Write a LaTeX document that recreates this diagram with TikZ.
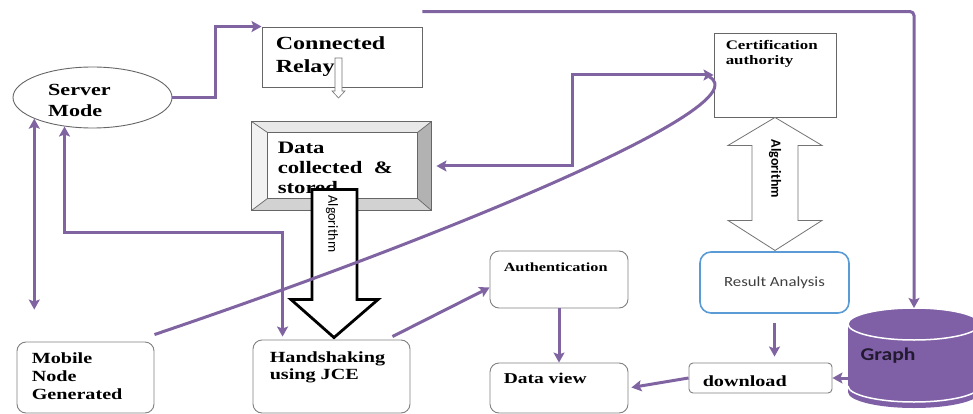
\documentclass[tikz,border=0pt]{standalone}
\usepackage{fontspec}
\setmainfont{Liberation Serif}[FakeStretch=1.3]
\newfontfamily\calib{Carlito}[FakeStretch=1.2]
\newfontfamily\calibup{Carlito}
\usetikzlibrary{positioning,shapes.geometric,arrows.meta,calc}

\definecolor{linkpurple}{HTML}{8064A2}
\definecolor{cylpurple}{HTML}{7F5FA6}
\definecolor{resblue}{HTML}{5B9BD5}
\definecolor{graphtext}{HTML}{221A30}

\tikzset{
  flowline/.style={draw=linkpurple, line width=3pt},
  flow/.style={flowline, -{Stealth[length=10pt,width=11pt,inset=2pt]}},
  twoway/.style={flowline, {Stealth[length=10pt,width=11pt,inset=2pt]}-{Stealth[length=10pt,width=11pt,inset=2pt]}},
  plainbox/.style={draw=black!60, line width=0.9pt, fill=white, inner sep=0pt},
  softbox/.style={plainbox, draw=black!50, rounded corners=9pt},
  boxtext/.style={inner sep=0pt, align=left, anchor=north west}
}

\begin{document}
\begin{tikzpicture}[x=1pt, y=-1pt]
\useasboundingbox (0,0) rectangle (973,414);

% server mode
\node[ellipse, draw=black!60, line width=0.9pt, fill=white, inner sep=0pt,
      minimum width=159pt, minimum height=61pt] (server) at (92.5,97.5) {};
\node[boxtext, font=\bfseries\fontsize{17}{21}\selectfont] (servertxt) at (48,84) {Server\\Mode};

% connected relay
\node[plainbox, minimum width=160pt, minimum height=60pt] (relay) at (342,57) {};
\node[boxtext, font=\bfseries\fontsize{18.5}{23}\selectfont, below right=10pt and 14pt of relay.north west] (relaytxt) {Connected\\Relay};
\draw[draw=black!55, fill=white, line width=0.6pt] ([xshift=-7pt,yshift=-1pt]relay.center)
  -- ++(7,0) -- ++(0,33) -- ++(3,0) -- ++(-6.5,7) -- ++(-6.5,-7) -- ++(3,0) -- cycle;

% data collected & stored (bevel)
\node[plainbox, minimum width=179pt, minimum height=88pt] (data) at (341.5,166) {};
\fill[gray!18] (data.north west) -- (data.north east) -- ([shift={(-14,11)}]data.north east) -- ([shift={(16,11)}]data.north west) -- cycle;
\fill[gray!10] (data.north west) -- ([shift={(16,11)}]data.north west) -- ([shift={(16,-12)}]data.south west) -- (data.south west) -- cycle;
\fill[gray!60] (data.north east) -- ([shift={(-14,11)}]data.north east) -- ([shift={(-14,-12)}]data.south east) -- (data.south east) -- cycle;
\fill[gray!35] (data.south west) -- ([shift={(16,-12)}]data.south west) -- ([shift={(-14,-12)}]data.south east) -- (data.south east) -- cycle;
\draw[black!60, line width=0.7pt] (data.north west) rectangle (data.south east)
  ([shift={(16,11)}]data.north west) rectangle ([shift={(-14,-12)}]data.south east)
  (data.north west) -- ++(16,11) (data.north east) -- ++(-14,11)
  (data.south west) -- ++(16,-12) (data.south east) -- ++(-14,-12);
\node[boxtext, font=\bfseries\fontsize{17.5}{20}\selectfont, below right=20pt and 26pt of data.north west] (datatxt) {Data\\collected\ \ \&\\stored};

% certification authority
\node[plainbox, minimum width=122pt, minimum height=84pt] (cert) at (775,75) {};
\node[boxtext, font=\bfseries\fontsize{13}{15}\selectfont, below right=8pt and 12pt of cert.north west] (certtxt) {Certification\\authority};

% bottom row
\node[softbox, minimum width=137pt, minimum height=71pt] (mobile) at (85.5,377.5) {};
\node[boxtext, font=\bfseries\fontsize{15.5}{18}\selectfont, below right=11pt and 15pt of mobile.north west] (mobiletxt) {Mobile\\Node\\Generated};

\node[softbox, minimum width=157pt, minimum height=73pt] (hand) at (331.5,376.5) {};
\node[boxtext, font=\bfseries\fontsize{15.5}{17}\selectfont, below right=12pt and 17pt of hand.north west] (handtxt) {Handshaking\\using JCE};

\node[softbox, minimum width=138pt, minimum height=57pt] (auth) at (559,279.5) {};
\node[boxtext, font=\bfseries\fontsize{12.5}{14}\selectfont, below right=12pt and 14pt of auth.north west] (authtxt) {Authentication};

\node[softbox, minimum width=138pt, minimum height=50pt] (view) at (559,388) {};
\node[boxtext, font=\bfseries\fontsize{15}{17}\selectfont, below right=10pt and 14pt of view.north west] (viewtxt) {Data view};

\node[softbox, draw=resblue, line width=1.6pt, rounded corners=11pt, minimum width=149pt, minimum height=61pt,
      font=\calib\fontsize{14}{16}\selectfont, text=black!75] (result) at (774.5,282.5) {Result Analysis};

\node[softbox, rounded corners=4pt, minimum width=143pt, minimum height=30pt] (download) at (760.5,378) {};
\node[boxtext, font=\bfseries\fontsize{15.5}{17}\selectfont, below right=13pt and 14pt of download.north west] (downloadtxt) {download};

% graph store
\coordinate (graphtop) at (914,308);
\coordinate (graphleft) at (848,378);
\fill[cylpurple] (848,324) -- (848,392) arc[start angle=180, end angle=360, x radius=66pt, y radius=16pt]
  -- (980,324) arc[start angle=0, end angle=180, x radius=66pt, y radius=16pt] -- cycle;
\draw[white, line width=1.5pt] (914,324) ellipse[x radius=66pt, y radius=16pt];
\draw[white, line width=1.5pt] (848,386) arc[start angle=180, end angle=360, x radius=66pt, y radius=16pt];
\node[font=\calib\bfseries\fontsize{18}{20}\selectfont, text=graphtext] (graph) at (888,356) {Graph};

% algorithm arrows
\draw[black, line width=2.8pt, fill=white, line join=miter] ([xshift=2.5pt,yshift=2pt]hand.north)
  -- ++(-43,-38) -- ++(21,0) -- ++(0,-110) -- ++(45,0) -- ++(0,110) -- ++(21,0) -- cycle;
\node[rotate=-90, font=\calibup\fontsize{14}{16}\selectfont] (algodown) at (332,224) {Algorithm};

\draw[black!55, line width=0.8pt, fill=white] (cert.south)
  -- ++(47,28) -- ++(-24,0) -- ++(0,75) -- ++(24,0) -- ++(-47,30)
  -- ++(-47,-30) -- ++(24,0) -- ++(0,-75) -- ++(-24,0) -- cycle;
\node[rotate=-90, font=\calibup\bfseries\fontsize{14}{16}\selectfont] (algoup) at (775,169) {Algorithm};

% connectors
\coordinate (mobilegap) at ([yshift=32pt]mobile.north);
\draw[flow] (server.east) -- ++(43,0) |- (relay.north west);
\draw[flow, rounded corners=4pt] ([yshift=15pt]relay.north east) -| (graphtop);
\draw[twoway] (server.200) -- (server.200 |- mobilegap);
\draw[twoway] (server.226) -- ++(0,106) -| ([xshift=30pt,yshift=3pt]hand.north west);
\draw[flowline] ([yshift=7pt]mobile.north east) .. controls (455,233) and (760,105) .. ([xshift=-4pt,yshift=-2pt]cert.west);
\draw[twoway] ([xshift=5pt]data.east) -| ($(data.east)!0.5!(cert.west)$) |- (cert.west);
\draw[flow] ([xshift=-18pt,yshift=3pt]hand.north east) -- ([yshift=-8pt]auth.west);
\draw[flow] (auth.south) -- (view.north);
\draw[flow, shorten <=9pt, shorten >=6pt] (result.south) -- (result.south |- download.north);
\draw[flow, shorten >=3pt] (download.west) -- (view.east);
\draw[flow] (graphleft) -- (download.east);
\end{tikzpicture}
\end{document}
